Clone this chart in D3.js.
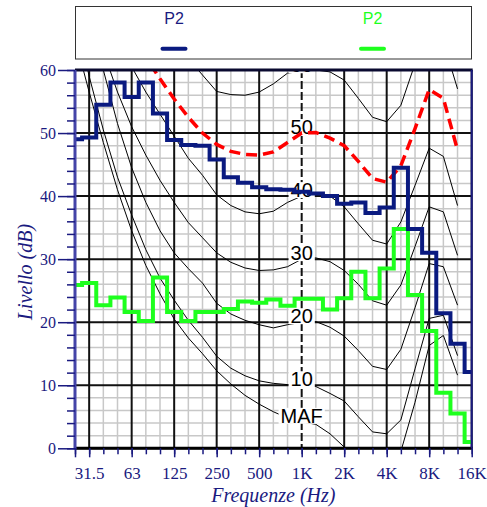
<!DOCTYPE html>
<html>
<head>
<meta charset="utf-8">
<script src="https://cdn.jsdelivr.net/npm/d3@7"></script>
<style>
  body { margin: 0; background: #fff; }
  svg { display: block; }
</style>
</head>
<body>
<div id="chart"></div>
<script>
// third-octave bands, 25 Hz .. 16 kHz
var bands = ['25', '31.5', '40', '50', '63', '80', '100', '125', '160', '200', '250', '315', '400', '500',
  '630', '800', '1K', '1.25K', '1.6K', '2K', '2.5K', '3.15K', '4K', '5K', '6.3K', '8K', '10K', '12.5K', '16K'];
var octaveLabels = ['31.5', '63', '125', '250', '500', '1K', '2K', '4K', '8K', '16K'];
var levelTicks = [0, 10, 20, 30, 40, 50, 60];

var seriesNames = ['P2', 'P2'];

// dB per band
var blueLevels = [49.0, 49.3, 54.5, 58.0, 55.7, 58.0, 53.1, 48.9, 48.1, 48.0, 45.8, 43.0, 42.1, 41.4,
  41.1, 41.0, 40.7, 40.4, 40.0, 38.8, 39.0, 37.3, 38.2, 44.5, 34.8, 31.0, 21.4, 16.6, 12.1];
var greenLevels = [25.9, 26.2, 22.7, 23.9, 21.6, 20.2, 27.1, 21.6, 20.2, 21.6, 21.6, 22.1, 23.3, 23.1,
  23.6, 22.6, 23.7, 23.7, 22.0, 23.8, 28.0, 23.8, 28.5, 34.8, 24.3, 18.6, 8.8, 5.5, 1.0];

// equal loudness contours, 25 Hz .. 12.5 kHz
var contourMAF = [65, 56.5, 48.5, 41, 34.5, 29, 24.5, 20.5, 17.5, 15, 12.3, 10.2, 8.4, 7.0,
  5.8, 4.8, 4.2, 3.8, 2.3, 0.2, -2, -4.5, -5, -0.5, 7.3, 16.3, 17.9, 11.6];
var contour10 = [69, 59, 50.5, 43, 37, 31.5, 27, 23.5, 20.3, 17.6, 14.6, 12.7, 11.5, 10.7,
  10.3, 10.1, 10, 9.8, 8.7, 7.5, 5.0, 2.6, 2.3, 4.5, 12.6, 20.6, 21.1, 14.7];
var contour20 = [79, 69, 60, 51.5, 44.5, 39, 34.5, 31, 28.5, 26.2, 23.0, 21.3, 20.3, 19.6,
  19.1, 19.6, 20, 20.1, 19.2, 17.8, 15.5, 13.0, 12.5, 15.7, 22.3, 29.3, 28.8, 22.7];
var contour30 = [81, 71.5, 63, 56.5, 51, 46.5, 42.5, 39, 35.8, 33.4, 31.0, 29.5, 28.6, 28.2,
  28.3, 28.8, 30, 30.2, 29.6, 28.2, 26.0, 23.4, 22.7, 25.9, 32, 38.3, 37.5, 30.6];
var contour40 = [83, 76, 70, 65, 60.5, 56.5, 53, 49.5, 46, 43.3, 40.2, 38.5, 37.5, 37.2,
  37.6, 39.0, 40, 40.5, 40.0, 38.3, 35.6, 33.0, 32.4, 35.9, 41.7, 47.6, 46.3, 38.5];
var contour50 = [85, 79, 74, 69.5, 65.5, 62, 58.6, 55.4, 52.5, 50.0, 48.2, 47.1, 46.6, 46.5,
  47.0, 48.5, 50.0, 50.1, 49.2, 48.0, 45.5, 42.8, 42.2, 44.8, 50.7, 56.9, 55.5, 47.3];
var contour60 = [92, 87, 82, 78, 74, 70.5, 67.5, 64.5, 61.8, 59.2, 56.6, 56.1, 56.0, 56.5,
  57.8, 59.5, 59.8, 60.0, 59.7, 58.4, 55.5, 52.5, 51.8, 54.4, 61, 67, 64.5, 57];
var contourNames = ['MAF', '10', '20', '30', '40', '50', '60'];

var navy = '#1a1a80';
var blueColor = '#0a1a80';
var greenColor = '#1eff1e';

var W = 487, H = 507;
var plot = { left: 75, right: 471.7, top: 70, bottom: 448.3 };

var svg = d3.select('#chart').append('svg')
  .attr('width', W)
  .attr('height', H);

var x = d3.scaleLinear().domain([0, bands.length - 1]).range([plot.left, plot.right]);
var y = d3.scaleLinear().domain([0, 60]).range([plot.bottom, plot.top]);

svg.append('clipPath').attr('id', 'clip')
  .append('rect')
  .attr('x', plot.left).attr('y', plot.top)
  .attr('width', plot.right - plot.left).attr('height', plot.bottom - plot.top);

// legend
var legend = svg.append('g');
legend.append('rect')
  .attr('x', 75.5).attr('y', 6.5).attr('width', 396).attr('height', 52.5)
  .attr('fill', 'none').attr('stroke', '#333').attr('stroke-width', 1);
[{ name: seriesNames[0], color: blueColor, text: navy, cx: 174 },
 { name: seriesNames[1], color: greenColor, text: greenColor, cx: 372.5 }].forEach(function(d) {
  legend.append('text')
    .attr('x', d.cx).attr('y', 24)
    .attr('text-anchor', 'middle')
    .attr('font-family', 'Liberation Sans, Arial, sans-serif')
    .attr('font-size', 16)
    .attr('fill', d.text)
    .text(d.name);
  legend.append('line')
    .attr('x1', d.cx - 11.5).attr('x2', d.cx + 11.5)
    .attr('y1', 48.7).attr('y2', 48.7)
    .attr('stroke', d.color).attr('stroke-width', 4).attr('stroke-linecap', 'round');
});

// grid
var grid = svg.append('g');
d3.range(0, 61, 2).forEach(function(v) {
  if (v % 10 === 0) return;
  grid.append('line')
    .attr('x1', plot.left).attr('x2', plot.right).attr('y1', y(v)).attr('y2', y(v))
    .attr('stroke', '#c8c8c8').attr('stroke-width', 1.5);
});
bands.forEach(function(b, i) {
  if (octaveLabels.indexOf(b) >= 0) return;
  grid.append('line')
    .attr('x1', x(i)).attr('x2', x(i)).attr('y1', plot.top).attr('y2', plot.bottom)
    .attr('stroke', '#c8c8c8').attr('stroke-width', 1.5);
});
levelTicks.forEach(function(v) {
  grid.append('line')
    .attr('x1', plot.left).attr('x2', plot.right).attr('y1', y(v)).attr('y2', y(v))
    .attr('stroke', '#111').attr('stroke-width', 2);
});
octaveLabels.forEach(function(b) {
  var i = bands.indexOf(b);
  grid.append('line')
    .attr('x1', x(i)).attr('x2', x(i)).attr('y1', plot.top).attr('y2', plot.bottom)
    .attr('stroke', '#111').attr('stroke-width', 2)
    .attr('stroke-dasharray', b === '1K' ? '8,3' : null);
});

// contours
var contourLine = d3.line()
  .x(function(d, i) { return x(i); })
  .y(function(d) { return y(d); });

var contours = [contourMAF, contour10, contour20, contour30, contour40, contour50, contour60];
var cg = svg.append('g').attr('clip-path', 'url(#clip)');
contours.forEach(function(c, idx) {
  if (contourNames[idx] === '50') return;
  cg.append('path')
    .datum(c)
    .attr('d', contourLine)
    .attr('fill', 'none')
    .attr('stroke', '#000')
    .attr('stroke-width', 1);
});

// contour labels at 1 kHz
var k1 = bands.indexOf('1K');
contours.forEach(function(c, idx) {
  var cy = y(c[k1]) - 6;
  var g = cg.append('g');
  var rect = g.append('rect').attr('fill', '#fff');
  var t = g.append('text')
    .attr('x', x(k1)).attr('y', cy)
    .attr('dy', '0.35em')
    .attr('text-anchor', 'middle')
    .attr('font-family', 'Liberation Sans, Arial, sans-serif')
    .attr('font-size', 20)
    .attr('fill', '#000')
    .text(contourNames[idx]);
  var bb = t.node().getBBox();
  rect.attr('x', bb.x - 2).attr('y', cy - 8).attr('width', bb.width + 4).attr('height', 16);
});

// 50 phon highlighted
cg.append('path')
  .datum(contour50)
  .attr('d', contourLine)
  .attr('fill', 'none')
  .attr('stroke', '#ff0000')
  .attr('stroke-width', 3.5)
  .attr('stroke-dasharray', '11,6');

// spectra
var stepLine = d3.line()
  .x(function(d, i) { return x(i); })
  .y(function(d) { return y(d); })
  .curve(d3.curveStep);

cg.append('path')
  .datum(greenLevels)
  .attr('d', stepLine)
  .attr('fill', 'none')
  .attr('stroke', greenColor)
  .attr('stroke-width', 4);

cg.append('path')
  .datum(blueLevels)
  .attr('d', stepLine)
  .attr('fill', 'none')
  .attr('stroke', blueColor)
  .attr('stroke-width', 4);

// frame
svg.append('line').attr('x1', plot.left).attr('x2', plot.right + 1)
  .attr('y1', plot.top).attr('y2', plot.top)
  .attr('stroke', '#0a0a30').attr('stroke-width', 3);
svg.append('line').attr('x1', plot.left).attr('x2', plot.right + 1)
  .attr('y1', plot.bottom).attr('y2', plot.bottom)
  .attr('stroke', '#000').attr('stroke-width', 3);
svg.append('line').attr('x1', plot.right).attr('x2', plot.right)
  .attr('y1', plot.top).attr('y2', plot.bottom)
  .attr('stroke', navy).attr('stroke-width', 2);
svg.append('line').attr('x1', plot.left).attr('x2', plot.left)
  .attr('y1', plot.top).attr('y2', plot.bottom + 1)
  .attr('stroke', '#4444a8').attr('stroke-width', 3);

// y axis
var yMinor = svg.append('g')
  .attr('transform', 'translate(' + plot.left + ',0)')
  .call(d3.axisLeft(y).tickValues(d3.range(0, 61, 2)).tickSize(8).tickFormat(''));
var yAxis = svg.append('g')
  .attr('transform', 'translate(' + plot.left + ',0)')
  .call(d3.axisLeft(y).tickValues(levelTicks).tickSize(17).tickPadding(2));

// x axis
var xMinor = svg.append('g')
  .attr('transform', 'translate(0,' + plot.bottom + ')')
  .call(d3.axisBottom(x).tickValues(d3.range(bands.length)).tickSize(6).tickFormat(''));
var xAxis = svg.append('g')
  .attr('transform', 'translate(0,' + plot.bottom + ')')
  .call(d3.axisBottom(x)
    .tickValues([0].concat(octaveLabels.map(function(b) { return bands.indexOf(b); })))
    .tickSize(9).tickPadding(10)
    .tickFormat(function(i) { return i === 0 ? '' : bands[i]; }));

[yMinor, yAxis, xMinor, xAxis].forEach(function(g) {
  g.select('.domain').remove();
  g.selectAll('.tick line').attr('stroke', navy).attr('stroke-width', 1.5);
  g.selectAll('.tick text')
    .attr('fill', navy)
    .attr('font-family', 'Liberation Serif, Times New Roman, serif');
});
yAxis.selectAll('.tick text').attr('font-size', 16);
xAxis.selectAll('.tick text').attr('font-size', 17);

// axis titles
svg.append('text')
  .attr('x', (plot.left + plot.right) / 2).attr('y', 502)
  .attr('text-anchor', 'middle')
  .attr('font-family', 'Liberation Serif, Times New Roman, serif')
  .attr('font-style', 'italic')
  .attr('font-size', 20)
  .attr('fill', navy)
  .text('Frequenze (Hz)');

svg.append('text')
  .attr('transform', 'translate(32,272) rotate(-90)')
  .attr('text-anchor', 'middle')
  .attr('font-family', 'Liberation Serif, Times New Roman, serif')
  .attr('font-style', 'italic')
  .attr('font-size', 20)
  .attr('fill', navy)
  .text('Livello (dB)');
</script>
</body>
</html>
